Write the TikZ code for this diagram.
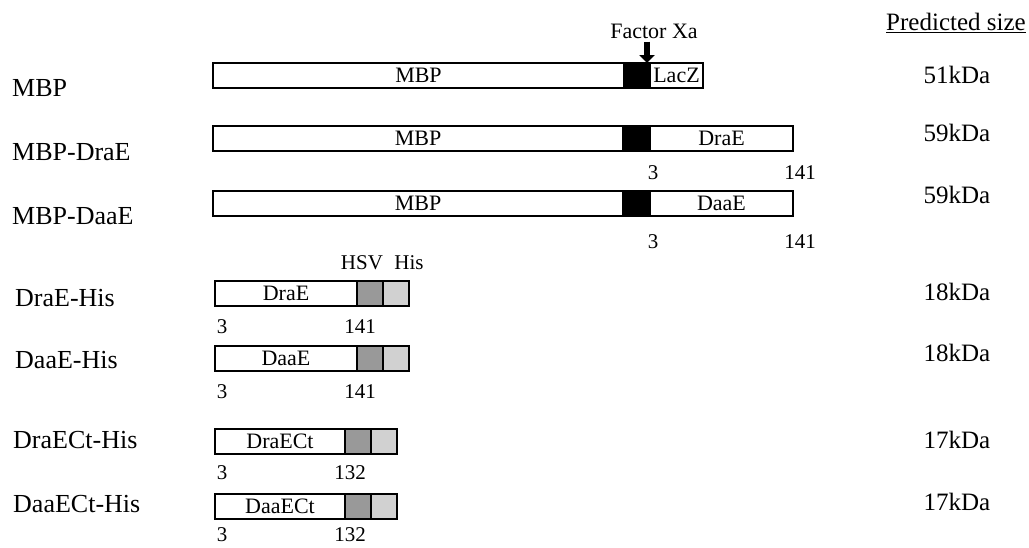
\documentclass[tikz,border=0pt]{standalone}
\usepackage{fontspec}
\setmainfont{Liberation Serif}
\usetikzlibrary{positioning,arrows.meta}
\definecolor{hsvgray}{gray}{0.6}
\definecolor{hisgray}{gray}{0.82}
\begin{document}
\begin{tikzpicture}[
  x=1pt, y=-1pt,
  seg/.style={draw, line width=1.1pt, minimum height=25pt, inner sep=0pt, outer sep=0pt,
    font=\fontsize{22}{25}\selectfont},
  tag/.style={font=\fontsize{21}{24}\selectfont, inner sep=0pt},
  rowname/.style={anchor=west, font=\fontsize{26}{30}\selectfont, inner sep=0pt},
  size/.style={font=\fontsize{25}{29}\selectfont, inner sep=0pt},
  cut/.style={line width=6pt, -{Triangle[width=15pt,length=8pt]}}
]
  \useasboundingbox (0,0) rectangle (1029,547);

  \node[size] (head) at (956,23) {\underline{Predicted size}};

  \node[rowname] (n1) at (12,88) {MBP};
  \node[rowname] (n2) at (12,152) {MBP-DraE};
  \node[rowname] (n3) at (12,216) {MBP-DaaE};
  \node[rowname] (n4) at (15,298) {DraE-His};
  \node[rowname] (n5) at (15,360) {DaaE-His};
  \node[rowname] (n6) at (13,440) {DraECt-His};
  \node[rowname] (n7) at (13,504) {DaaECt-His};

  \node[seg, minimum width=411pt, anchor=north west] (mbpA) at (213,63) {MBP};
  \node[seg, fill=black, minimum width=26pt, right=0pt of mbpA] (xaA) {};
  \node[seg, minimum width=53pt, right=0pt of xaA] (lacz) {LacZ};

  \node[seg, minimum width=410pt, anchor=north west] (mbpB) at (213,126) {MBP};
  \node[seg, fill=black, minimum width=27pt, right=0pt of mbpB] (xaB) {};
  \node[seg, minimum width=143pt, right=0pt of xaB] (drae) {DraE};

  \node[seg, minimum width=410pt, anchor=north west] (mbpC) at (213,191) {MBP};
  \node[seg, fill=black, minimum width=27pt, right=0pt of mbpC] (xaC) {};
  \node[seg, minimum width=143pt, right=0pt of xaC] (daae) {DaaE};

  \node[tag] (fxa) at (654,31) {\fontsize{22}{25}\selectfont Factor Xa};
  \coordinate (tip) at (647,63);
  \draw[cut] (fxa.south -| tip) ++(0,3) coordinate (tail) -- (tip);

  \node[tag] (b3) at (653,173) {3};
  \node[tag] (b141) at (800,173) {141};
  \node[tag] (c3) at (653,242) {3};
  \node[tag] (c141) at (800,242) {141};

  \node[seg, minimum width=142pt, anchor=north west] (draeH) at (215,281) {DraE};
  \node[seg, fill=hsvgray, minimum width=26pt, right=0pt of draeH] (hsvD) {};
  \node[seg, fill=hisgray, minimum width=26pt, right=0pt of hsvD] (hisD) {};
  \node[tag] (hsv) at (362,263) {HSV};
  \node[tag] (his) at (409,263) {His};
  \node[tag] (d3) at (222,327) {3};
  \node[tag] (d141) at (360,327) {141};

  \node[seg, minimum width=142pt, anchor=north west] (daaeH) at (215,346) {DaaE};
  \node[seg, fill=hsvgray, minimum width=26pt, right=0pt of daaeH] (hsvE) {};
  \node[seg, fill=hisgray, minimum width=26pt, right=0pt of hsvE] (hisE) {};
  \node[tag] (e3) at (222,392) {3};
  \node[tag] (e141) at (360,392) {141};

  \node[seg, minimum width=130pt, anchor=north west] (draect) at (215,429) {DraECt};
  \node[seg, fill=hsvgray, minimum width=26pt, right=0pt of draect] (hsvF) {};
  \node[seg, fill=hisgray, minimum width=26pt, right=0pt of hsvF] (hisF) {};
  \node[tag] (f3) at (222,473) {3};
  \node[tag] (f132) at (350,473) {132};

  \node[seg, minimum width=130pt, anchor=north west] (daaect) at (215,494) {DaaECt};
  \node[seg, fill=hsvgray, minimum width=26pt, right=0pt of daaect] (hsvG) {};
  \node[seg, fill=hisgray, minimum width=26pt, right=0pt of hsvG] (hisG) {};
  \node[tag] (g3) at (222,535) {3};
  \node[tag] (g132) at (350,535) {132};

  \node[size] (s1) at (957,75) {51kDa};
  \node[size] (s2) at (957,133) {59kDa};
  \node[size] (s3) at (957,195) {59kDa};
  \node[size] (s4) at (957,292) {18kDa};
  \node[size] (s5) at (957,353) {18kDa};
  \node[size] (s6) at (957,440) {17kDa};
  \node[size] (s7) at (957,502) {17kDa};
\end{tikzpicture}
\end{document}
